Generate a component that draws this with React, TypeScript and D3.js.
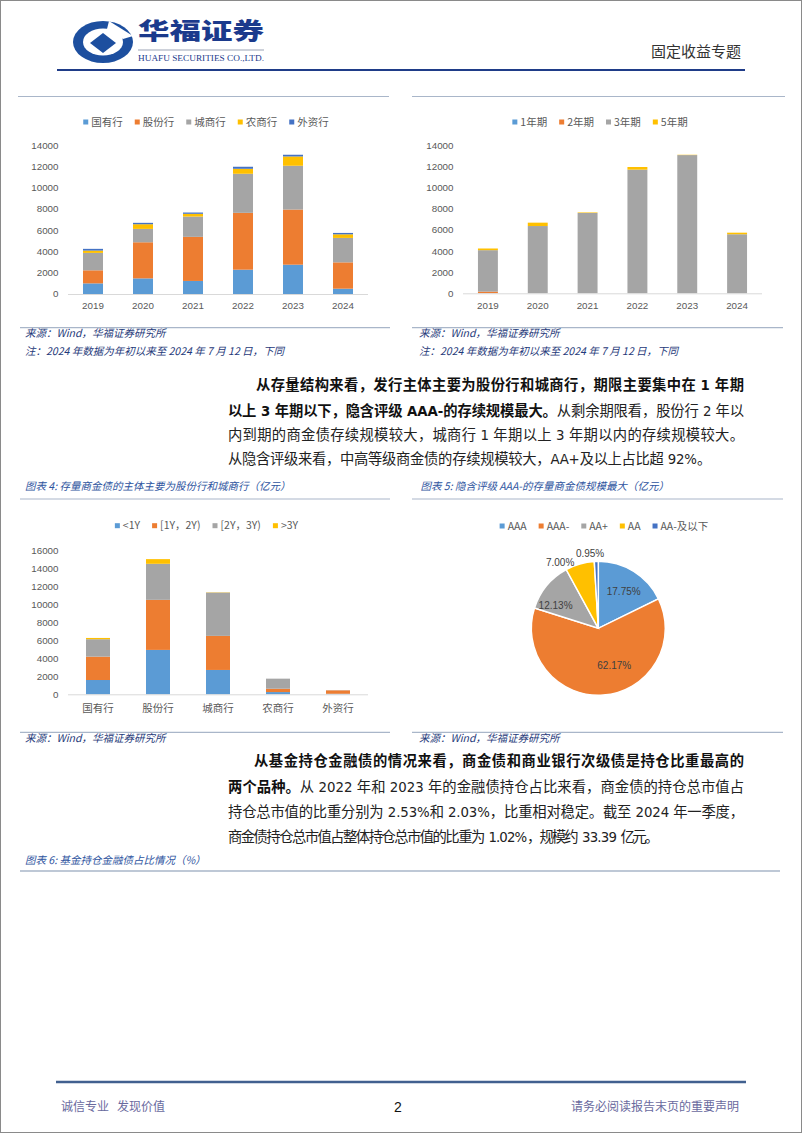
import React, { useEffect, useRef } from 'react';
import * as d3 from 'd3';

// ---------------- DATA ----------------
const years = ['2019', '2020', '2021', '2022', '2023', '2024'];
const issuerNames = ['国有行', '股份行', '城商行', '农商行', '外资行'];
const issuanceByIssuer = [
  [1000, 1470, 1230, 2290, 2760, 500],
  [1230, 3400, 4150, 5350, 5190, 2480],
  [1640, 1260, 1910, 3680, 4125, 2300],
  [220, 440, 260, 470, 875, 340],
  [160, 130, 120, 190, 160, 130],
];
const termNames = ['1年期', '2年期', '3年期', '5年期'];
const issuanceByTerm = [
  [10, 0, 0, 0, 0, 0],
  [150, 0, 0, 0, 0, 0],
  [3930, 6380, 7620, 11730, 13110, 5600],
  [160, 320, 50, 250, 30, 150],
];
const bankTypes = ['国有行', '股份行', '城商行', '农商行', '外资行'];
const remainNames = ['<1Y', '[1Y，2Y)', '[2Y，3Y)', '>3Y'];
const remainByBank = [
  [1590, 4940, 2710, 250, 60],
  [2600, 5570, 3790, 370, 380],
  [1940, 4010, 4820, 1120, 20],
  [140, 520, 30, 0, 0],
];
const ratingNames = ['AAA', 'AAA-', 'AA+', 'AA', 'AA-及以下'];
const ratingShares = [17.75, 62.17, 12.13, 7.0, 0.95];
const ratingLabels = ['17.75%', '62.17%', '12.13%', '7.00%', '0.95%'];
const yTicks14k = [0, 2000, 4000, 6000, 8000, 10000, 12000, 14000];
const yTicks16k = [0, 2000, 4000, 6000, 8000, 10000, 12000, 14000, 16000];

// ---------------- STYLES ----------------
const PALETTE = ['#5b9bd5', '#ed7d31', '#a5a5a5', '#ffc000', '#4472c4'];
const CJK = '"Noto Sans CJK SC", "Noto Sans", sans-serif';
const SANS = '"Liberation Sans", Arial, sans-serif';
const NARROW = '"Liberation Sans Narrow", "DejaVu Sans Condensed", "Liberation Sans", sans-serif';
const AXIS_TXT = '#595959';
const SRC_COLOR = '#1f3a7a';
const CAP_COLOR = '#2e54a0';
const RULE = '#a9b6c9';

const pieLabelStyle = [
  { k: 0.66, dx: 2, dy: 1, anchor: 'middle' },
  { k: 0.6, dx: 13, dy: -3, anchor: 'middle' },
  { k: 0.73, dx: -5, dy: 8, anchor: 'middle' },
  { k: 1.08, dx: -4, dy: 4, anchor: 'end' },
  { k: 1.12, dx: -6, dy: 0, anchor: 'middle' },
];

type Seg = [string, boolean];
type Line = { x: number; y: number; end: number; segs: Seg[] };
const para1: Line[] = [
  { x: 256, y: 385, end: 744, segs: [['从存量结构来看，发行主体主要为股份行和城商行，期限主要集中在 1 年期', true]] },
  { x: 228, y: 411, end: 744, segs: [['以上 3 年期以下，隐含评级 AAA-的存续规模最大。', true], ['从剩余期限看，股份行 2 年以', false]] },
  { x: 228, y: 435, end: 744, segs: [['内到期的商金债存续规模较大，城商行 1 年期以上 3 年期以内的存续规模较大。', false]] },
  { x: 228, y: 459, end: 711, segs: [['从隐含评级来看，中高等级商金债的存续规模较大，AA+及以上占比超 92%。', false]] },
];
const para2: Line[] = [
  { x: 254, y: 761, end: 744, segs: [['从基金持仓金融债的情况来看，商金债和商业银行次级债是持仓比重最高的', true]] },
  { x: 228, y: 787, end: 744, segs: [['两个品种。', true], ['从 2022 年和 2023 年的金融债持仓占比来看，商金债的持仓总市值占', false]] },
  { x: 228, y: 812, end: 744, segs: [['持仓总市值的比重分别为 2.53%和 2.03%，比重相对稳定。截至 2024 年一季度，', false]] },
  { x: 228, y: 837, end: 659, segs: [['商金债持仓总市值占整体持仓总市值的比重为 1.02%，规模约 33.39 亿元。', false]] },
];

export default function App() {
  const ref = useRef<SVGSVGElement>(null);

  useEffect(() => {
    const svg = d3.select(ref.current!);
    svg.selectAll('*').remove();

    const txt = (x: number, y: number, s: string, o: any = {}) => {
      const t = svg
        .append('text')
        .attr('x', x)
        .attr('y', y)
        .attr('dy', '0.35em')
        .attr('text-anchor', o.anchor || 'start')
        .style('font-family', o.family || CJK)
        .style('font-size', (o.size || 10.5) + 'px')
        .style('font-weight', o.weight || 400)
        .style('font-style', o.italic ? 'italic' : 'normal')
        .style('white-space', 'pre')
        .attr('fill', o.color || '#222')
        .text(s);
      if (o.len) t.attr('textLength', o.len).attr('lengthAdjust', 'spacingAndGlyphs');
      return t;
    };
    const hline = (x1: number, x2: number, y: number, color: string, w = 1) =>
      svg.append('line').attr('x1', x1).attr('x2', x2).attr('y1', y).attr('y2', y).attr('stroke', color).attr('stroke-width', w);

    // page frame
    svg.append('rect').attr('x', 0.5).attr('y', 0.5).attr('width', 801).attr('height', 1132).attr('fill', '#fff').attr('stroke', '#8a8a8a');

    // ---------- header ----------
    const logo = svg.append('g').attr('transform', 'translate(103,42)');
    logo.append('ellipse').attr('rx', 30).attr('ry', 21).attr('fill', '#1d4f9f');
    logo.append('ellipse').attr('rx', 20).attr('ry', 13.5).attr('fill', '#fff');
    logo.append('path').attr('d', 'M0,-9 L13,1 L0,11 L-13,1 Z').attr('fill', '#1d4f9f');
    logo.append('path').attr('d', 'M6,-21 L30,-6 L20,-3 L4,-13 Z').attr('fill', '#fff');
    txt(138, 31, '华福证券', { size: 23, weight: 900, color: '#1b3a8c', len: 126 });
    hline(138, 264, 50, '#9aa3b5', 1);
    txt(138, 58, 'HUAFU SECURITIES CO.,LTD.', { family: '"Liberation Serif", serif', size: 8, color: '#1b3a8c', len: 126 });
    txt(741, 52, '固定收益专题', { size: 15, color: '#333', anchor: 'end' });
    hline(57, 745, 70, '#1f3c88', 2);

    hline(18, 389, 96.5, RULE, 1.2);
    hline(412, 785, 96.5, RULE, 1.2);

    // ---------- legend helper ----------
    const legend = (names: string[], colors: string[], cx: number, cy: number, family = CJK) => {
      const g = svg.append('g');
      let x = 0;
      names.forEach((n, i) => {
        g.append('rect').attr('x', x).attr('y', cy - 2.5).attr('width', 5).attr('height', 5).attr('fill', colors[i]);
        const t = g
          .append('text')
          .attr('x', x + 8)
          .attr('y', cy)
          .attr('dy', '0.35em')
          .style('font-family', family)
          .style('font-size', '10.5px')
          .attr('fill', AXIS_TXT)
          .text(n);
        const w = (t.node() as SVGTextElement).getComputedTextLength();
        x += 8 + w + 12;
      });
      const total = x - 12;
      g.attr('transform', `translate(${cx - total / 2},0)`);
    };

    // ---------- stacked bar helper ----------
    const bars = (cfg: any) => {
      const table = cfg.cats.map((c: string, i: number) => {
        const o: any = { cat: c };
        cfg.series.forEach((s: string, j: number) => (o[s] = cfg.values[j][i]));
        return o;
      });
      const stacked = d3.stack<any>().keys(cfg.series)(table);
      const x = d3.scaleBand().domain(cfg.cats).range([cfg.x0, cfg.x1]).paddingInner(0.6).paddingOuter(0.3);
      const y = d3.scaleLinear().domain([0, cfg.yMax]).range([cfg.yZero, cfg.yTop]);
      cfg.ticks.forEach((v: number) => txt(cfg.x0 - 9.5, y(v), String(v), { family: SANS, size: 9.8, color: AXIS_TXT, anchor: 'end' }));
      stacked.forEach((layer: any, j: number) => {
        svg
          .append('g')
          .selectAll('rect')
          .data(layer)
          .join('rect')
          .attr('x', (d: any) => x(d.data.cat)!)
          .attr('width', x.bandwidth())
          .attr('y', (d: any) => y(d[1]))
          .attr('height', (d: any) => Math.max(0, y(d[0]) - y(d[1])))
          .attr('fill', PALETTE[j]);
      });
      hline(cfg.x0, cfg.x1, cfg.yZero + 0.5, '#d9d9d9', 1);
      cfg.cats.forEach((c: string) =>
        txt(x(c)! + x.bandwidth() / 2, cfg.xLabelY, c, {
          family: cfg.catFamily || SANS,
          size: cfg.catSize || 9.8,
          color: AXIS_TXT,
          anchor: 'middle',
        })
      );
    };

    // ---------- Chart 1 ----------
    legend(issuerNames, PALETTE, 206, 122);
    bars({ cats: years, series: issuerNames, values: issuanceByIssuer, x0: 68, x1: 368, yZero: 294, yTop: 145.3, yMax: 14000, ticks: yTicks14k, xLabelY: 306 });
    hline(20, 390, 327.7, RULE, 1.2);
    txt(25, 333.5, '来源：Wind，华福证券研究所', { italic: true, color: SRC_COLOR });
    txt(25, 351, '注：2024 年数据为年初以来至 2024 年 7 月 12 日，下同', { italic: true, color: SRC_COLOR });

    // ---------- Chart 2 ----------
    legend(termNames, PALETTE, 600, 122);
    bars({ cats: years, series: termNames, values: issuanceByTerm, x0: 463, x1: 762, yZero: 293.3, yTop: 145.7, yMax: 14000, ticks: yTicks14k, xLabelY: 306 });
    hline(412, 783, 327.7, RULE, 1.2);
    txt(419, 333.5, '来源：Wind，华福证券研究所', { italic: true, color: SRC_COLOR });
    txt(419, 351, '注：2024 年数据为年初以来至 2024 年 7 月 12 日，下同', { italic: true, color: SRC_COLOR });

    // ---------- paragraphs (justified, ASCII runs in narrow face) ----------
    const paragraph = (lines: Line[]) => {
      lines.forEach((line) => {
        const nodes: any[] = [];
        line.segs.forEach(([s, b]) => {
          const runs = s.match(/[\x20-\x7E]+|[^\x20-\x7E]+/g) || [];
          runs.forEach((run) => {
            const ascii = /^[\x20-\x7E]+$/.test(run);
            nodes.push(
              txt(0, line.y, run, {
                size: ascii ? 14.8 : 14.3,
                family: ascii ? NARROW : CJK,
                weight: b ? 700 : 400,
                color: b ? '#111' : '#222',
              })
            );
          });
        });
        const widths = nodes.map((n) => (n.node() as SVGTextElement).getComputedTextLength());
        const total = d3.sum(widths);
        const k = (line.end - line.x) / total;
        let x = line.x;
        nodes.forEach((n, i) => {
          n.attr('x', x).attr('textLength', widths[i] * k).attr('lengthAdjust', 'spacing');
          x += widths[i] * k;
        });
      });
    };
    paragraph(para1);

    txt(25, 486.7, '图表 4: 存量商金债的主体主要为股份行和城商行（亿元）', { italic: true, color: CAP_COLOR });
    txt(420.5, 486.7, '图表 5: 隐含评级 AAA-的存量商金债规模最大（亿元）', { italic: true, color: CAP_COLOR });
    hline(20, 390, 499, RULE, 1.2);
    hline(412, 783, 499, RULE, 1.2);

    // ---------- Chart 3 ----------
    legend(remainNames, PALETTE, 206.5, 525.7);
    bars({
      cats: bankTypes, series: remainNames, values: remainByBank, x0: 68, x1: 368, yZero: 694.3, yTop: 550.5, yMax: 16000,
      ticks: yTicks16k, xLabelY: 708.3, catFamily: CJK, catSize: 10.5,
    });
    hline(20, 390, 732.3, RULE, 1.2);
    txt(25, 738.7, '来源：Wind，华福证券研究所', { italic: true, color: SRC_COLOR });

    // ---------- Chart 4 (pie) ----------
    legend(ratingNames, PALETTE, 604, 526);
    const cx = 598.3, cy = 628.3, r = 67;
    const arcs = d3.pie<number>().sort(null).value((d) => d)(ratingShares);
    const arcGen = d3.arc<any>().innerRadius(0).outerRadius(r);
    const pg = svg.append('g').attr('transform', `translate(${cx},${cy})`);
    pg.selectAll('path').data(arcs).join('path').attr('d', arcGen as any).attr('fill', (_d, i) => PALETTE[i]).attr('stroke', '#fff').attr('stroke-width', 1.5);
    arcs.forEach((a, i) => {
      const st = pieLabelStyle[i];
      const mid = (a.startAngle + a.endAngle) / 2;
      const rr = r * st.k;
      txt(cx + Math.sin(mid) * rr + st.dx, cy - Math.cos(mid) * rr + st.dy, ratingLabels[i], {
        family: SANS, size: 10, color: '#404040', anchor: st.anchor,
      });
    });
    hline(412, 783, 732.3, RULE, 1.2);
    txt(419, 738.7, '来源：Wind，华福证券研究所', { italic: true, color: SRC_COLOR });

    paragraph(para2);
    txt(25, 860, '图表 6: 基金持仓金融债占比情况（%）', { italic: true, color: CAP_COLOR });
    hline(20, 780, 871, RULE, 1.5);

    // ---------- footer ----------
    hline(56, 746, 1082, '#41608f', 2.5);
    txt(61, 1107, '诚信专业\u00a0\u00a0\u00a0发现价值', { size: 12, color: '#6a6a9e' });
    txt(398, 1107, '2', { family: SANS, size: 14, color: '#111', anchor: 'middle' });
    txt(739, 1107, '请务必阅读报告末页的重要声明', { size: 12, color: '#6a6a9e', anchor: 'end' });
  }, []);

  return (
    <svg
      ref={ref}
      width={802}
      height={1133}
      viewBox="0 0 802 1133"
      style={{ position: 'absolute', left: 0, top: 0, display: 'block', background: '#fff' }}
    />
  );
}
